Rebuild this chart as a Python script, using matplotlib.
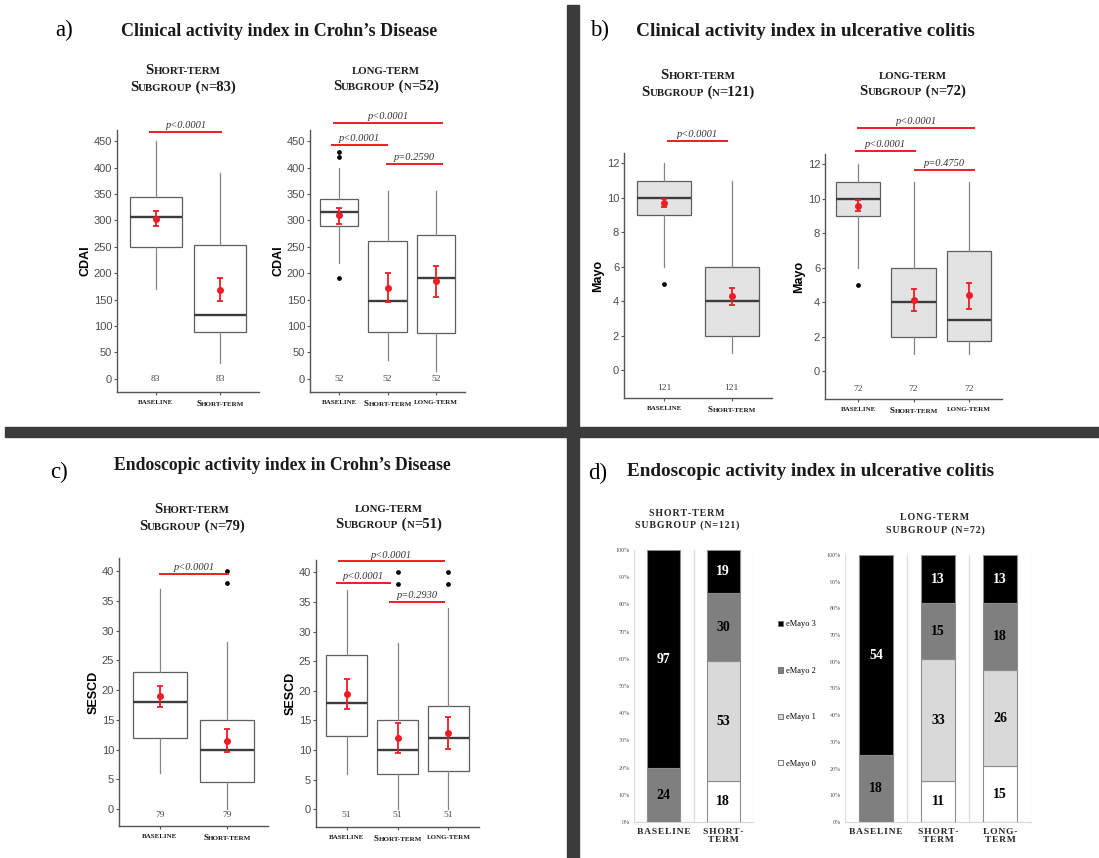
import matplotlib.pyplot as plt
import numpy as np
from matplotlib.offsetbox import TextArea, HPacker, VPacker, AnnotationBbox
from matplotlib.patches import Rectangle, Patch

W, H = 1099, 858

# ---------------- data ----------------
# a) CDAI, Crohn's disease
cdai_st_groups = ['baseline', 'Short-term']
cdai_st_n = [83, 83]
cdai_st_q1 = [250, 88]
cdai_st_med = [307, 120]
cdai_st_q3 = [345, 253]
cdai_st_wlo = [170, 30]
cdai_st_whi = [450, 390]
cdai_st_out = [[], []]
cdai_st_mean = [303, 168]
cdai_st_lo = [290, 147]
cdai_st_hi = [318, 190]
cdai_st_p = ['p<0.0001']

cdai_lt_groups = ['baseline', 'Short-term', 'long-term']
cdai_lt_n = [52, 52, 52]
cdai_lt_q1 = [290, 88, 86]
cdai_lt_med = [316, 148, 190]
cdai_lt_q3 = [340, 260, 272]
cdai_lt_wlo = [220, 35, 15]
cdai_lt_whi = [400, 355, 355]
cdai_lt_out = [[190, 420, 430], [], []]
cdai_lt_mean = [310, 172, 185]
cdai_lt_lo = [293, 145, 155]
cdai_lt_hi = [323, 200, 214]
cdai_lt_p = ['p<0.0001', 'p<0.0001', 'p=0.2590']

# b) Mayo, ulcerative colitis
mayo_st_groups = ['baseline', 'Short-term']
mayo_st_n = [121, 121]
mayo_st_q1 = [9, 2]
mayo_st_med = [10, 4]
mayo_st_q3 = [11, 6]
mayo_st_wlo = [6, 1]
mayo_st_whi = [12, 11]
mayo_st_out = [[5], []]
mayo_st_mean = [9.7, 4.3]
mayo_st_lo = [9.45, 3.8]
mayo_st_hi = [9.95, 4.8]
mayo_st_p = ['p<0.0001']

mayo_lt_groups = ['baseline', 'Short-term', 'long-term']
mayo_lt_n = [72, 72, 72]
mayo_lt_q1 = [9, 2, 1.75]
mayo_lt_med = [10, 4, 3]
mayo_lt_q3 = [11, 6, 7]
mayo_lt_wlo = [6, 1, 1]
mayo_lt_whi = [12, 11, 11]
mayo_lt_out = [[5], [], []]
mayo_lt_mean = [9.6, 4.15, 4.4]
mayo_lt_lo = [9.3, 3.5, 3.6]
mayo_lt_hi = [9.95, 4.8, 5.15]
mayo_lt_p = ['p<0.0001', 'p<0.0001', 'p=0.4750']

# c) SESCD, Crohn's disease
sescd_st_groups = ['baseline', 'Short-term']
sescd_st_n = [79, 79]
sescd_st_q1 = [12, 4.5]
sescd_st_med = [18, 10]
sescd_st_q3 = [23, 15]
sescd_st_wlo = [6, 0]
sescd_st_whi = [37, 28]
sescd_st_out = [[], [38, 40]]
sescd_st_mean = [19, 11.5]
sescd_st_lo = [17.2, 9.5]
sescd_st_hi = [20.6, 13.5]
sescd_st_p = ['p<0.0001']

sescd_lt_groups = ['baseline', 'Short-term', 'long-term']
sescd_lt_n = [51, 51, 51]
sescd_lt_q1 = [12.3, 6, 6.5]
sescd_lt_med = [18, 10, 12]
sescd_lt_q3 = [26, 15, 17.5]
sescd_lt_wlo = [6, 0, 0]
sescd_lt_whi = [37, 28, 34]
sescd_lt_out = [[], [38, 40], [38, 40]]
sescd_lt_mean = [19.5, 12, 12.8]
sescd_lt_lo = [17, 9.5, 10.2]
sescd_lt_hi = [22, 14.5, 15.6]
sescd_lt_p = ['p<0.0001', 'p<0.0001', 'p=0.2930']

# d) endoscopic Mayo, ulcerative colitis (patient counts)
emayo_labels = ['eMayo 0', 'eMayo 1', 'eMayo 2', 'eMayo 3']
endo_st_groups = ['BASELINE', 'SHORT-\nTERM']
endo_st_emayo0 = [0, 18]
endo_st_emayo1 = [0, 53]
endo_st_emayo2 = [24, 30]
endo_st_emayo3 = [97, 19]
endo_lt_groups = ['BASELINE', 'SHORT-\nTERM', 'LONG-\nTERM']
endo_lt_emayo0 = [0, 11, 15]
endo_lt_emayo1 = [0, 33, 26]
endo_lt_emayo2 = [18, 15, 18]
endo_lt_emayo3 = [54, 13, 13]

# ---------------- style ----------------
SERIF = 'Liberation Serif'
SANS = 'Liberation Sans'
INK = '#1a1a1a'
RED = '#ee1c24'
BAR_COLORS = ['#ffffff', '#d9d9d9', '#7f7f7f', '#000000']

fig = plt.figure(figsize=(W / 100, H / 100), dpi=100)


def pxax(x0, y0, x1, y1):
    return fig.add_axes([x0 / W, 1 - y1 / H, (x1 - x0) / W, (y1 - y0) / H])


def fy(y):
    return 1 - y / H


def smallcaps(text, big, small, color=INK):
    runs = []
    for ch in text:
        sz = small if (ch.islower() or ch == '-') else big
        if runs and runs[-1][1] == sz:
            runs[-1][0] += ch.upper()
        else:
            runs.append([ch.upper(), sz])
    kids = [TextArea(t, textprops=dict(fontsize=s, family=SERIF, fontweight='bold', color=color))
            for t, s in runs]
    return HPacker(children=kids, align='baseline', pad=0, sep=0)


def subtitle(ax, lines, x, y, big=10.5, small=7.8):
    box = VPacker(children=[smallcaps(l, big, small) for l in lines], align='center', pad=0, sep=3)
    ab = AnnotationBbox(box, (x / W, fy(y)), xycoords='figure fraction', frameon=False,
                        box_alignment=(0.5, 0.5), pad=0, annotation_clip=False)
    ax.add_artist(ab)


def box_panel(ax, groups, n, q1, med, q3, wlo, whi, out, mean, lo, hi,
              ylim, yticks, ylabel, n_y, face):
    pos = np.arange(1, len(groups) + 1)
    stats = [dict(med=m, q1=a, q3=b, whislo=l, whishi=h, fliers=f)
             for m, a, b, l, h, f in zip(med, q1, q3, wlo, whi, out)]
    ax.bxp(stats, positions=pos, widths=0.8, patch_artist=True, showcaps=False,
           boxprops=dict(facecolor=face, edgecolor='#5e5e5e', linewidth=0.9),
           medianprops=dict(color='#3c3c3c', linewidth=1.7),
           whiskerprops=dict(color='#858585', linewidth=0.9),
           flierprops=dict(marker='o', markersize=2.4, markerfacecolor='black',
                           markeredgecolor='black'))
    mean = np.array(mean)
    ax.errorbar(pos, mean, yerr=[mean - np.array(lo), np.array(hi) - mean], fmt='o',
                color=RED, markersize=4, capsize=2.5, elinewidth=1.3, capthick=1.3, zorder=5)
    for p, c in zip(pos, n):
        ax.text(p, n_y, str(c), ha='center', va='center', fontsize=6.8, color='#444444',
                family=SERIF)
    ax.set_xlim(0.4, len(groups) + 0.6)
    ax.set_ylim(*ylim)
    ax.set_yticks(yticks)
    ax.set_xticks(pos)
    ax.set_xticklabels([])
    for s in ['top', 'right']:
        ax.spines[s].set_visible(False)
    for s in ['left', 'bottom']:
        ax.spines[s].set_color('#555555')
        ax.spines[s].set_linewidth(1.0)
    ax.tick_params(axis='y', length=2.5, color='#555555', labelsize=8, labelcolor='#4d4d4d', pad=1)
    ax.tick_params(axis='x', length=2, color='#555555')
    for t in ax.get_yticklabels():
        t.set_family(SANS)
    ax.set_ylabel(ylabel, family=SANS, fontweight='bold', fontsize=9, labelpad=1.5, color='black')
    for p, g in zip(pos, groups):
        ab = AnnotationBbox(smallcaps(g, 6.6, 5.0), (p, 0), xycoords=ax.get_xaxis_transform(),
                            xybox=(0, -6), boxcoords='offset points', frameon=False,
                            box_alignment=(0.5, 1.0), pad=0, annotation_clip=False)
        ax.add_artist(ab)


def pbars(ax, spans, labels):
    for (x0, x1, y), lab in zip(spans, labels):
        ax.plot([x0, x1], [y, y], color=RED, lw=1.4, clip_on=False, solid_capstyle='butt')
        ax.annotate(lab, xy=((x0 + x1) / 2, y), xytext=(0, 1.2), textcoords='offset points',
                    ha='center', va='bottom', fontsize=7.5, style='italic', family=SERIF,
                    color='#333333', annotation_clip=False)


def spaced(s, sep='\u200a'):
    return '\n'.join(sep.join(line) for line in s.split('\n'))


def bar_panel(ax, groups, levels):
    counts = np.array(levels, dtype=float)
    totals = counts.sum(axis=0)
    share = counts / totals
    x = np.arange(len(groups))
    bottom = np.zeros(len(groups))
    for k in range(len(levels)):
        ax.bar(x, share[k], bottom=bottom, width=0.55, color=BAR_COLORS[k],
               edgecolor='#8c8c8c', linewidth=0.8, zorder=3)
        for xi, c, b, h in zip(x, counts[k], bottom, share[k]):
            if c > 0:
                ax.text(xi, b + h / 2, str(int(c)), ha='center', va='center', fontsize=10,
                        fontweight='bold', family=SERIF,
                        color='white' if k == 3 else 'black', zorder=4)
        bottom = bottom + share[k]
    ax.set_xlim(-0.5, len(groups) - 0.5)
    ax.set_ylim(0, 1)
    ax.set_yticks(np.arange(0, 1.01, 0.1))
    ax.set_yticklabels([f'{int(round(v * 100))}%' for v in np.arange(0, 1.01, 0.1)])
    ax.tick_params(axis='y', length=0, labelsize=4.3, labelcolor='#555555', pad=3)
    ax.set_xticks(x)
    ax.set_xticklabels([spaced(g) for g in groups], family=[SERIF, 'DejaVu Serif'],
                       fontweight='bold', fontsize=6.8, color='#262626', linespacing=1.05)
    ax.tick_params(axis='x', length=0, pad=4)
    ax.set_xticks(np.arange(-0.5, len(groups)), minor=True)
    ax.tick_params(axis='x', which='minor', length=0)
    ax.grid(axis='x', which='minor', color='#dddddd', lw=0.9)
    for s in ['top', 'right', 'left']:
        ax.spines[s].set_visible(False)
    ax.spines['bottom'].set_color('#d5d5d5')
    for t in ax.get_yticklabels():
        t.set_family(SERIF)


# ---------------- separators ----------------
fig.add_artist(Rectangle((567 / W, 0), 12 / W, fy(5), transform=fig.transFigure,
                         color='#3b3b3b', zorder=10))
fig.add_artist(Rectangle((5 / W, fy(437)), 1, 10 / H, transform=fig.transFigure,
                         color='#3b3b3b', zorder=10))

# ---------------- panel titles ----------------
for lab, x, y in [('a)', 55, 30), ('b)', 590, 30), ('c)', 50, 472), ('d)', 588, 473)]:
    fig.text(x / W, fy(y), lab, fontsize=16.5, family=SERIF, color='black', va='center', ha='left')
for t, x, y, fs in [('Clinical activity index in Crohn\u2019s Disease', 279, 32, 13.0),
                    ('Clinical activity index in ulcerative colitis', 805, 32, 13.9),
                    ('Endoscopic activity index in Crohn\u2019s Disease', 282, 465, 12.7),
                    ('Endoscopic activity index in ulcerative colitis', 811, 472, 13.8)]:
    fig.text(x / W, fy(y), t, fontsize=fs, family=SERIF, fontweight='bold', color=INK,
             ha='center', va='center')

# ---------------- a) ----------------
ax = pxax(117, 130, 259, 392)
box_panel(ax, cdai_st_groups, cdai_st_n, cdai_st_q1, cdai_st_med, cdai_st_q3, cdai_st_wlo,
          cdai_st_whi, cdai_st_out, cdai_st_mean, cdai_st_lo, cdai_st_hi,
          (-25, 471), np.arange(0, 451, 50), 'CDAI', 0, 'white')
pbars(ax, [(0.9, 2.03, 468)], cdai_st_p)
subtitle(ax, ['Short-term', 'Subgroup (n=83)'], 183, 79)

ax = pxax(310, 130, 465, 392)
box_panel(ax, cdai_lt_groups, cdai_lt_n, cdai_lt_q1, cdai_lt_med, cdai_lt_q3, cdai_lt_wlo,
          cdai_lt_whi, cdai_lt_out, cdai_lt_mean, cdai_lt_lo, cdai_lt_hi,
          (-25, 471), np.arange(0, 451, 50), 'CDAI', 0, 'white')
pbars(ax, [(0.88, 3.15, 485), (0.83, 2.01, 443), (1.97, 3.15, 407)], cdai_lt_p)
subtitle(ax, ['long-term', 'Subgroup (n=52)'], 386, 80)

# ---------------- b) ----------------
ax = pxax(624, 153, 772, 398)
box_panel(ax, mayo_st_groups, mayo_st_n, mayo_st_q1, mayo_st_med, mayo_st_q3, mayo_st_wlo,
          mayo_st_whi, mayo_st_out, mayo_st_mean, mayo_st_lo, mayo_st_hi,
          (-1.6, 12.6), np.arange(0, 13, 2), 'Mayo', -1, '#e3e3e3')
pbars(ax, [(1.04, 1.94, 13.3)], mayo_st_p)
subtitle(ax, ['Short-term', 'Subgroup (n=121)'], 698, 84)

ax = pxax(825, 154, 1002, 399)
box_panel(ax, mayo_lt_groups, mayo_lt_n, mayo_lt_q1, mayo_lt_med, mayo_lt_q3, mayo_lt_wlo,
          mayo_lt_whi, mayo_lt_out, mayo_lt_mean, mayo_lt_lo, mayo_lt_hi,
          (-1.6, 12.6), np.arange(0, 13, 2), 'Mayo', -1, '#e3e3e3')
pbars(ax, [(0.98, 3.11, 14.1), (0.95, 2.04, 12.8), (2.0, 3.11, 11.7)], mayo_lt_p)
subtitle(ax, ['long-term', 'Subgroup (n=72)'], 913, 85)

# ---------------- c) ----------------
ax = pxax(119, 558, 268, 826)
box_panel(ax, sescd_st_groups, sescd_st_n, sescd_st_q1, sescd_st_med, sescd_st_q3, sescd_st_wlo,
          sescd_st_whi, sescd_st_out, sescd_st_mean, sescd_st_lo, sescd_st_hi,
          (-2.86, 42.2), np.arange(0, 41, 5), 'SESCD', -1, 'white')
pbars(ax, [(0.99, 2.03, 39.5)], sescd_st_p)
subtitle(ax, ['Short-term', 'Subgroup (n=79)'], 192, 518)

ax = pxax(316, 560, 479, 827)
box_panel(ax, sescd_lt_groups, sescd_lt_n, sescd_lt_q1, sescd_lt_med, sescd_lt_q3, sescd_lt_wlo,
          sescd_lt_whi, sescd_lt_out, sescd_lt_mean, sescd_lt_lo, sescd_lt_hi,
          (-3.0, 42.1), np.arange(0, 41, 5), 'SESCD', -1, 'white')
pbars(ax, [(0.83, 2.94, 41.9), (0.79, 1.88, 38.2), (1.84, 2.94, 35.0)], sescd_lt_p)
subtitle(ax, ['long-term', 'Subgroup (n=51)'], 389, 518)

# ---------------- d) ----------------
ax = pxax(634, 550, 753, 822)
bar_panel(ax, endo_st_groups, [endo_st_emayo0, endo_st_emayo1, endo_st_emayo2, endo_st_emayo3])
for txt, y in [('SHORT-TERM', 513), ('SUBGROUP (N=121)', 525)]:
    fig.text(687 / W, fy(y), spaced(txt), family=[SERIF, 'DejaVu Serif'],
             fontweight='bold', fontsize=7.1, color='#262626', ha='center', va='center')

ax = pxax(845, 555, 1031, 822)
bar_panel(ax, endo_lt_groups, [endo_lt_emayo0, endo_lt_emayo1, endo_lt_emayo2, endo_lt_emayo3])
for txt, y in [('LONG-TERM', 518), ('SUBGROUP (N=72)', 530)]:
    fig.text(935 / W, fy(y), spaced(txt), family=[SERIF, 'DejaVu Serif'],
             fontweight='bold', fontsize=7.1, color='#262626', ha='center', va='center')

leg_handles = [Patch(facecolor=c, edgecolor='#666666', linewidth=0.6) for c in BAR_COLORS[::-1]]
fig.legend(leg_handles, emayo_labels[::-1], loc='center', bbox_to_anchor=(797 / W, fy(694)),
           frameon=False, prop=dict(family=SERIF, size=6), handlelength=0.6, handleheight=0.6,
           handletextpad=0.4, labelspacing=4.6)

fig.savefig('out.png', dpi=100)
